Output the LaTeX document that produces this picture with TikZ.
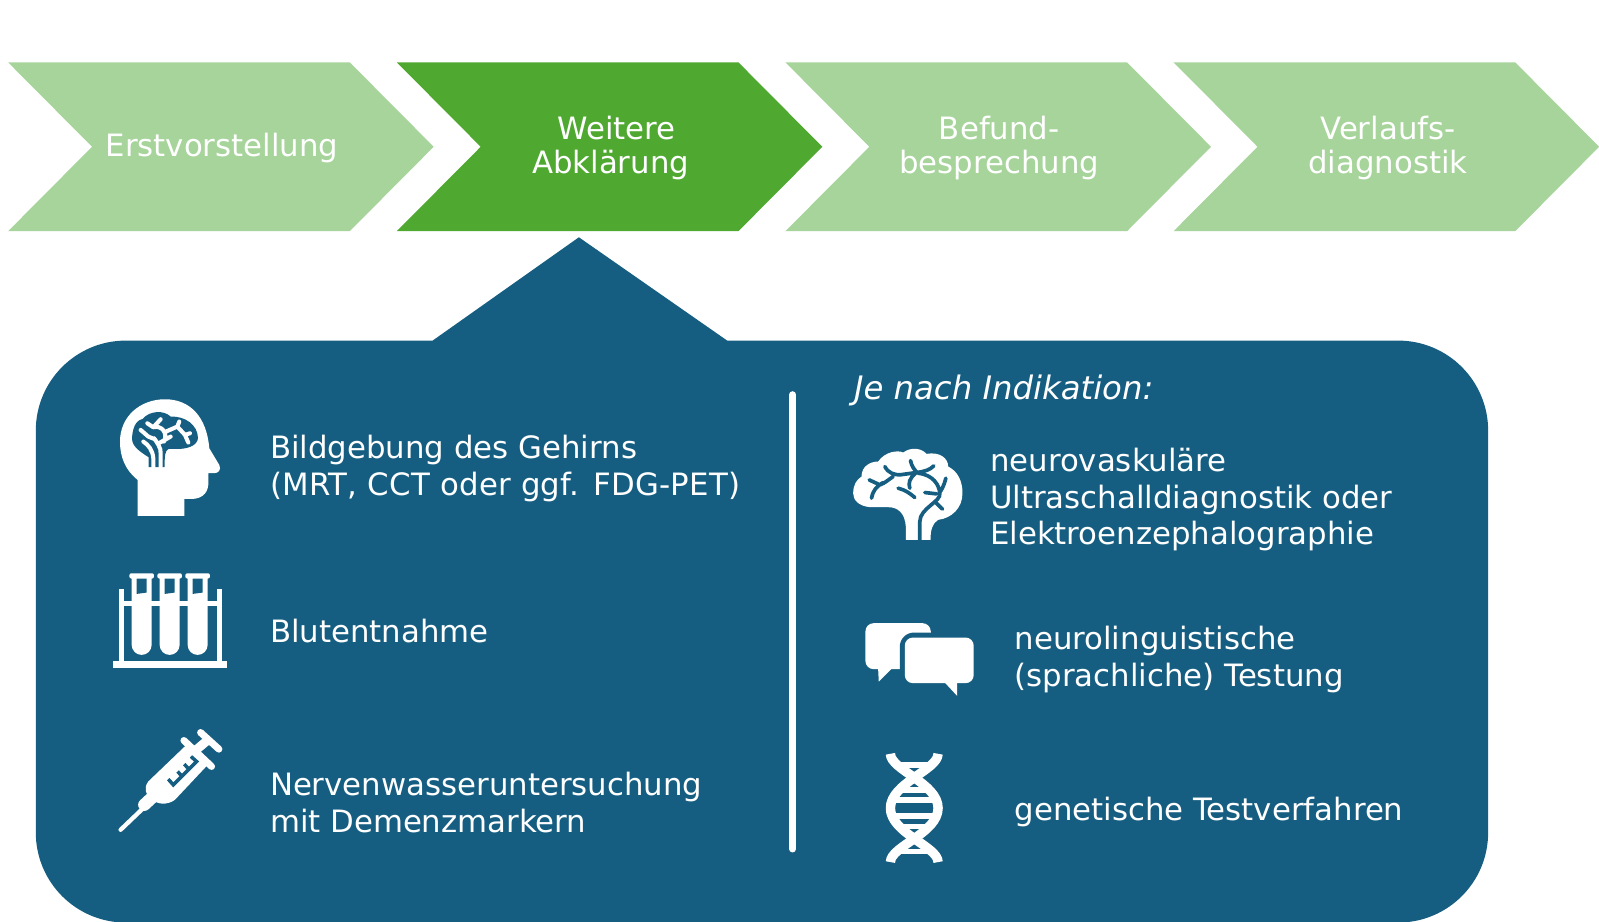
\documentclass[tikz,border=0pt]{standalone}
\usepackage{fontspec}
\setmainfont{DejaVu Sans}
\definecolor{lightgr}{HTML}{A6D49A}
\definecolor{darkgr}{HTML}{4FA830}
\definecolor{navy}{HTML}{155E81}
\tikzset{
  x=0.5pt,y=-0.5pt,
  chev/.style={fill=lightgr,draw=none},
  chevon/.style={fill=darkgr,draw=none},
  lbl/.style={text=white,font=\fontsize{15.05}{18}\selectfont,inner sep=0pt,outer sep=0pt,align=left,anchor=west},
  clbl/.style={text=white,font=\fontsize{15.05}{16.5}\selectfont,inner sep=0pt,outer sep=0pt,align=center},
  wh/.style={fill=white,draw=none},
  bgf/.style={fill=navy,draw=none},
  icon/.style={scale=0.3258},
  vein/.style={draw=navy,line width=1.8pt,line cap=round,line join=round},
}
\begin{document}
\begin{tikzpicture}
\useasboundingbox (0,0) rectangle (1563.4,900.5);
\fill[white] (0,0) rectangle (1563.4,900.5);
% chevrons
\foreach \d/\s in {0/chev,380/chevon,760/chev,1139.5/chev}{
  \path[\s,shift={(\d,0)}] (8,61) -- (342,61) -- (424,143.5) -- (342,226) -- (8,226) -- (90,143.5) -- cycle;
}
\node[clbl] (a) at (217,145) {Erstvorstellung};
\node[clbl] (b) at (597,145) {\hspace*{6pt}Weitere\\Abklärung};
\node[clbl] (c) at (977,145) {Befund-\\besprechung};
\node[clbl] (d) at (1357,145) {Verlaufs-\\diagnostik};
% panel
\path[bgf] (423,333) -- (566,232) -- (711,333) -- (1367,333) arc[start angle=-90,end angle=0,radius=88] -- (1455,814) arc[start angle=0,end angle=90,radius=88] -- (123,902) arc[start angle=90,end angle=180,radius=88] -- (35,421) arc[start angle=180,end angle=270,radius=88] -- cycle;
\draw[white,line width=3.5pt,line cap=round] (775,386) -- (775,830);
% left labels
\node[lbl] (t1) at (264,458) {Bildgebung des Gehirns\\\addfontfeature{LetterSpace=1}(MRT, CCT oder ggf. FDG-PET)};
\node[lbl] (t2) at (264,616.5) {Blutentnahme};
\node[lbl] (t3) at (264,784.5) {Nervenwasseruntersuchung\\mit Demenzmarkern};
\node[lbl,font=\fontsize{15.8}{18}\selectfont\itshape] (t4) at (835,382) {Je nach Indikation:};
\node[lbl] (t5) at (968,488.5) {neurovaskuläre\\Ultraschalldiagnostik oder\\Elektroenzephalographie};
\node[lbl] (t6) at (992,644.5) {neurolinguistische\\(sprachliche) Testung};
\node[lbl] (t7) at (992,794) {genetische Testverfahren};
% head icon
\begin{scope}[shift={(88,361.7)},icon]
\path[wh] (143,438) -- (143,330) .. controls (105,300) and (90,260) .. (90,215) .. controls (90,140) and (150,88) .. (225,88) .. controls (300,88) and (350,140) .. (358,235) -- (388,285) .. controls (395,300) and (385,310) .. (372,310) -- (355,310) -- (355,345) .. controls (352,375) and (330,387) .. (305,387) -- (283,387) -- (283,438) -- cycle;
\path[bgf] (176,292) -- (176,262) .. controls (150,245) and (126,230) .. (126,205) .. controls (128,175) and (136,152) .. (158,147) .. controls (178,122) and (222,120) .. (242,140) .. controls (285,138) and (324,165) .. (324,205) .. controls (322,228) and (290,238) .. (260,237) -- (236,237) .. controls (224,242) and (224,260) .. (224,292) -- cycle;
\draw[white,line width=2pt,line cap=round,line join=round,fill=none]
  (190,292) -- (190,265) .. controls (188,240) and (175,225) .. (160,215)
  (212,292) -- (212,250) .. controls (214,235) and (200,215) .. (192,205)
  (152,180) -- (175,200) -- (195,208)
  (172,160) -- (190,172) -- (212,148)
  (190,172) .. controls (215,165) and (235,190) .. (222,215)
  (210,218) -- (242,200)
  (228,185) -- (262,170) -- (285,195) -- (295,218)
  (262,170) -- (268,155) (285,195) -- (300,190);
\end{scope}
% tubes
\begin{scope}[shift={(88,527.9)},icon]
\path[wh] (70,362) rectangle (410,385);
\path[wh] (87,147) rectangle (103,362);
\path[wh] (380,147) rectangle (395,362);
\path[wh] (95,182) rectangle (388,197);
\foreach \t in {125,209,293}{
  \path[wh,rounded corners=1pt] (\t-7,100) rectangle (\t+67,116);
  \path[wh] (\t,112) -- (\t+60,112) -- (\t+60,315) arc[start angle=0,end angle=180,radius=30] -- cycle;
  \path[bgf] (\t+15,116) -- (\t+45,116) -- (\t+45,158) -- (\t+15,162) -- cycle;
}
\end{scope}
% syringe
\begin{scope}[shift={(102.6,703.8)},icon]
\draw[white,line width=2.1pt,line cap=round] (47,330) -- (115,265);
\draw[white,line width=6pt,line cap=round] (118,255) -- (145,230);
\path[wh] (130,185) -- (250,70) -- (318,125) -- (210,240) .. controls (170,268) and (130,240) .. (123,215) .. controls (120,205) and (123,195) .. (130,185) -- cycle;
\draw[white,line width=3.4pt,line cap=round] (237,62) -- (320,140);
\draw[white,line width=4.4pt] (268,95) -- (312,58);
\draw[white,line width=3.4pt,line cap=round] (287,38) -- (342,88);
\draw[navy,line width=1.7pt,line join=miter] (190,178) -- (205,195) -- (275,125) -- (258,110) (232,170) -- (218,155) (252,148) -- (238,133);
\end{scope}
% brain 2
\begin{scope}[shift={(801.6,420.3)},icon]
\path[wh] (258,330) -- (258,290) .. controls (255,250) and (235,232) .. (205,232) -- (150,232) .. controls (115,228) and (100,210) .. (100,190) .. controls (100,165) and (110,150) .. (125,140) .. controls (125,110) and (150,95) .. (175,95) .. controls (195,65) and (235,60) .. (250,68) .. controls (275,50) and (305,55) .. (320,72) .. controls (360,65) and (385,85) .. (385,110) .. controls (415,125) and (428,155) .. (428,190) .. controls (428,235) and (395,265) .. (355,270) .. controls (338,280) and (332,300) .. (332,330) -- cycle;
\draw[vein,fill=none] (148,150) -- (180,165) .. controls (195,160) and (205,150) .. (220,140)
  (155,205) .. controls (160,180) and (170,170) .. (190,158)
  (195,110) .. controls (205,130) and (225,135) .. (240,135) -- (290,128) .. controls (315,125) and (330,120) .. (342,108)
  (272,92) .. controls (275,110) and (285,122) .. (295,130)
  (290,128) .. controls (268,145) and (265,160) .. (270,175)
  (235,175) .. controls (255,180) and (270,190) .. (285,203)
  (295,130) .. controls (340,135) and (358,165) .. (360,190) .. controls (365,215) and (300,235) .. (300,275) -- (300,332)
  (378,145) .. controls (372,170) and (365,180) .. (358,190)
  (315,188) -- (350,192)
  (345,215) -- (368,238);
\end{scope}
% chat
\begin{scope}[shift={(811.3,586.5)},icon]
\path[wh,rounded corners=4pt] (107,70) rectangle (303,208);
\path[wh] (145,205) -- (147,245) -- (187,205) -- cycle;
\path[bgf,rounded corners=7pt] (210,98) rectangle (445,265);
\path[wh,rounded corners=4pt] (225,113) rectangle (432,250);
\path[wh] (345,248) -- (382,288) -- (382,248) -- cycle;
\end{scope}
% dna
\begin{scope}[shift={(850.4,728.2)},icon]
\draw[white,line width=4.6pt,line join=round] (62,27) .. controls (62,75) and (205,115) .. (205,190) .. controls (205,265) and (62,305) .. (62,352);
\draw[white,line width=4.6pt,line join=round] (205,27) .. controls (205,75) and (62,115) .. (62,190) .. controls (62,265) and (205,305) .. (205,352);
\foreach \yy/\a/\b in {60/85/185,135/100/168,166/70/198,214/70/198,245/100/168,320/85/185}{
  \draw[white,line width=2.8pt] (\a,\yy) -- (\b,\yy);
}
\end{scope}
\end{tikzpicture}
\end{document}
